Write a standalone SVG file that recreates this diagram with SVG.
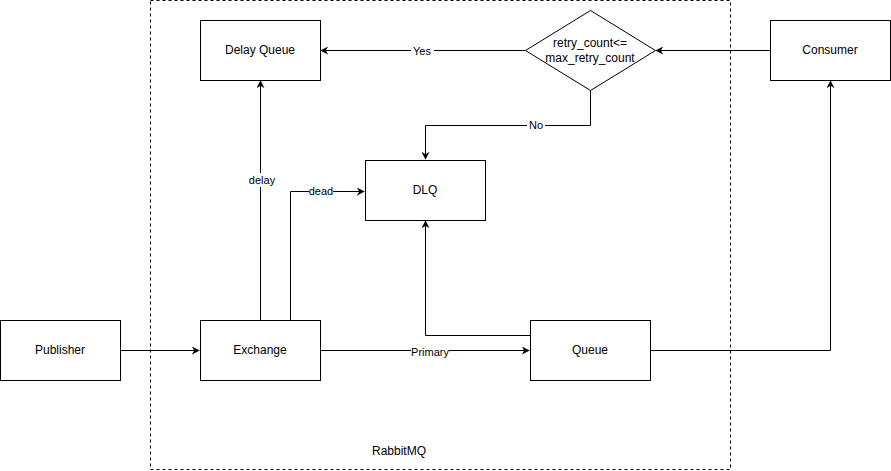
<svg xmlns="http://www.w3.org/2000/svg" width="891" height="471" viewBox="0 0 891 471">
<style>
.box{fill:#fff;stroke:#000;stroke-width:1}
.edge{fill:none;stroke:#000;stroke-width:1}
.t{font-family:"Liberation Sans",Arial,Helvetica,sans-serif;font-size:12px;fill:#000;text-anchor:middle;dominant-baseline:central}
.lbl{font-family:"Liberation Sans",Arial,Helvetica,sans-serif;font-size:11px;fill:#000;text-anchor:middle;dominant-baseline:central}
.lb{fill:#fff}
</style>
<defs>
<marker id="arr" viewBox="0 0 10 10" refX="9" refY="5" markerWidth="8" markerHeight="8" markerUnits="userSpaceOnUse" orient="auto">
<path d="M0,0 L10,5 L0,10 L3,5 Z" fill="#000"/>
</marker>
</defs>
<rect width="891" height="471" fill="#fff"/>
<g id="rabbitmq">
<rect x="150.5" y="0.5" width="580" height="469" fill="none" stroke="#000" stroke-dasharray="3,3"/>
<text class="t" x="399" y="451">RabbitMQ</text>
</g>
<g id="connectors">
<path class="edge" d="M120.5,350.5 H199" marker-end="url(#arr)"/>
<path class="edge" d="M320.5,350.5 H529" marker-end="url(#arr)"/>
<path class="edge" d="M650.5,350.5 H830.5 V81" marker-end="url(#arr)"/>
<path class="edge" d="M770,50.5 H656" marker-end="url(#arr)"/>
<path class="edge" d="M525.5,50.5 H321" marker-end="url(#arr)"/>
<path class="edge" d="M590.5,90 V125.5 H425.5 V159" marker-end="url(#arr)"/>
<path class="edge" d="M260.5,320 V81" marker-end="url(#arr)"/>
<path class="edge" d="M290.5,320 V191.5 H364" marker-end="url(#arr)"/>
<path class="edge" d="M530,335.5 H425.5 V221" marker-end="url(#arr)"/>
<rect class="lb" x="411" y="350" width="38" height="2"/>
<text class="lbl" x="430" y="352">Primary</text>
<rect class="lb" x="411" y="44" width="23" height="13"/>
<text class="lbl" x="422" y="51">Yes</text>
<rect class="lb" x="527" y="119" width="18" height="13"/>
<text class="lbl" x="536" y="125">No</text>
<rect class="lb" x="247" y="173" width="28" height="14"/>
<text class="lbl" x="262" y="180">delay</text>
<rect class="lb" x="309" y="185" width="24" height="13"/>
<text class="lbl" x="321" y="191">dead</text>
</g>
<g id="publisher"><rect class="box" x="0.5" y="320.5" width="120" height="60"/><text class="t" x="60" y="350">Publisher</text></g>
<g id="exchange"><rect class="box" x="200.5" y="320.5" width="120" height="60"/><text class="t" x="260" y="350">Exchange</text></g>
<g id="queue"><rect class="box" x="530.5" y="320.5" width="120" height="60"/><text class="t" x="590" y="350">Queue</text></g>
<g id="consumer"><rect class="box" x="770.5" y="20.5" width="120" height="60"/><text class="t" x="830" y="50">Consumer</text></g>
<g id="delay-queue"><rect class="box" x="200.5" y="20.5" width="120" height="60"/><text class="t" x="260" y="50">Delay Queue</text></g>
<g id="dlq"><rect class="box" x="365.5" y="160.5" width="120" height="60"/><text class="t" x="425" y="190">DLQ</text></g>
<g id="decision"><path class="box" d="M590.5,10.5 L655.5,50.5 L590.5,90.5 L525.5,50.5 Z"/><text class="t" x="590" y="43">retry_count&lt;=</text><text class="t" x="590" y="58">max_retry_count</text></g>
</svg>
